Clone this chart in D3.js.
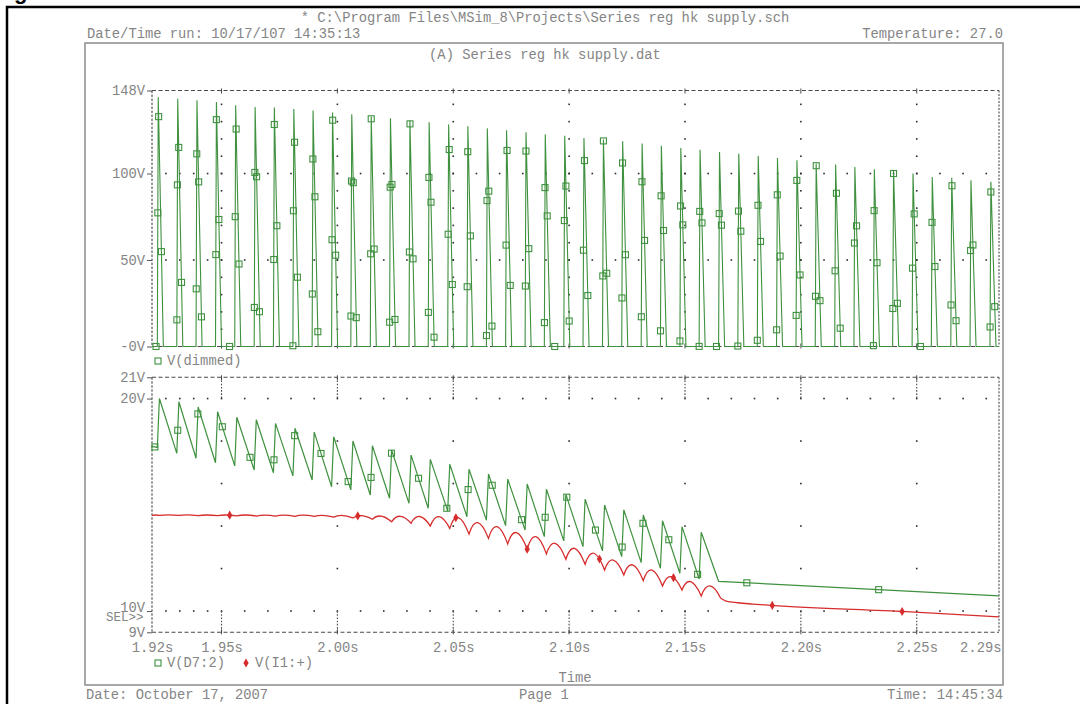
<!DOCTYPE html>
<html>
<head>
<meta charset="utf-8">
<script src="https://cdn.jsdelivr.net/npm/d3@7"></script>
<style>
  body { margin: 0; background: #fff; }
  svg { display: block; }
  text { font-family: "Liberation Mono", "DejaVu Sans Mono", monospace; font-size: 13.8px; fill: #858585; }
</style>
</head>
<body>
<div id="chart"></div>
<script>
// start of each rectifier pulse (s), shared by the three traces
const pulseTimes = [1.9223, 1.9307, 1.9390, 1.9474, 1.9557, 1.9641, 1.9724, 1.9808, 1.9891, 1.9975,
    2.0058, 2.0142, 2.0225, 2.0309, 2.0392, 2.0476, 2.0559, 2.0643, 2.0726, 2.0810,
    2.0893, 2.0977, 2.1060, 2.1144, 2.1227, 2.1311, 2.1394, 2.1478, 2.1561, 2.1645,
    2.1728, 2.1812, 2.1895, 2.1979, 2.2062, 2.2146, 2.2229, 2.2313, 2.2396, 2.2480,
    2.2563, 2.2647, 2.2730, 2.2816];

// V(dimmed) peak of each pulse (V)
const dimmedPeaks = [144.1, 143.3, 142.3, 141.3, 139.4, 138.4, 138.1, 137.3, 136.5, 135.3,
    134.2, 133.0, 131.9, 130.7, 129.6, 128.4, 127.3, 126.1, 125.0, 123.8,
    122.7, 121.8, 120.6, 119.6, 118.6, 117.3, 116.1, 114.8, 113.8, 112.5,
    111.5, 110.2, 109.0, 107.7, 105.8, 105.2, 103.8, 102.5, 101.5, 100.0,
    98.0, 97.5, 96.1, 95.2];

// V(D7:2) sawtooth: value before and after each recharge (V)
const d7Start = 17.75;
const d7Troughs = [17.70, 17.42, 17.19, 16.98, 16.83, 16.64, 16.51, 16.36, 16.17, 15.85,
    15.70, 15.46, 15.31, 15.07, 14.84, 14.71, 14.44, 14.28, 14.02, 13.81,
    13.50, 13.30, 13.03, 12.83, 12.56, 12.28, 12.01, 11.78, 11.51];
const d7Peaks = [20.00, 19.85, 19.60, 19.38, 19.12, 19.00, 18.83, 18.60, 18.42, 18.20,
    18.00, 17.78, 17.58, 17.34, 17.14, 16.91, 16.67, 16.45, 16.21, 15.98,
    15.73, 15.49, 15.26, 14.99, 14.76, 14.52, 14.25, 13.97, 13.71];
const d7TailTimes = [2.1645, 2.2855];
const d7TailValues = [11.40, 10.71];

// V(I1:+) ripple: cusp at each pulse and hump top between cusps (V)
const i1Start = 14.50;
const i1Cusps = [14.50, 14.50, 14.49, 14.49, 14.48, 14.47, 14.47, 14.46, 14.45, 14.42,
    14.38, 14.32, 14.20, 14.13, 14.00, 13.89, 13.62, 13.42, 13.16, 12.91,
    12.69, 12.44, 12.20, 11.93, 11.70, 11.43, 11.18, 10.99, 10.71, 10.60];
const i1Tops = [14.52, 14.53, 14.53, 14.52, 14.52, 14.52, 14.51, 14.51, 14.51, 14.50,
    14.50, 14.49, 14.47, 14.46, 14.45, 14.44, 14.40, 14.16, 13.97, 13.69,
    13.50, 13.19, 12.95, 12.72, 12.40, 12.17, 11.93, 11.62, 11.38, 11.18];
const i1TailTimes = [2.1677, 2.1728, 2.1793, 2.1872, 2.2455, 2.2855];
const i1TailValues = [10.47, 10.39, 10.33, 10.27, 9.97, 9.73];

// axis ticks
const xTickValues = [1.92, 1.95, 2.00, 2.05, 2.10, 2.15, 2.20, 2.25, 2.2855];
const xTickLabels = ["1.92s", "1.95s", "2.00s", "2.05s", "2.10s", "2.15s", "2.20s", "2.25s", "2.29s"];
const topTickValues = [0, 50, 100, 148];
const topTickLabels = ["-0V", "50V", "100V", "148V"];
const botTickValues = [9, 10, 20, 21];
const botTickLabels = ["9V", "10V", "20V", "21V"];

const green = "#3f913f";
const red = "#d62c2c";

const svg = d3.select("#chart")
    .append("svg")
    .attr("width", 1080)
    .attr("height", 704);

const x = d3.scaleLinear().domain([1.92, 2.2855]).range([152, 999]);
const yTop = d3.scaleLinear().domain([0, 148]).range([346.5, 90.5]);
const yBot = d3.scaleLinear().domain([9, 21]).range([632.3, 377.3]);

// page border and cut-off caption letter
svg.append("text")
    .attr("x", 14)
    .attr("y", -1)
    .style("font-family", "Liberation Sans, Arial, sans-serif")
    .style("font-weight", "bold")
    .style("font-size", "22px")
    .style("fill", "#000")
    .text("g");

svg.append("path")
    .attr("d", "M7,704V7H1080")
    .attr("fill", "none")
    .attr("stroke", "#000")
    .attr("stroke-width", 2.5);

// plot window
svg.append("rect")
    .attr("x", 85)
    .attr("y", 43)
    .attr("width", 918)
    .attr("height", 642)
    .attr("fill", "none")
    .attr("stroke", "#8c8c8c")
    .attr("stroke-width", 1.5);

// header and footer texts
svg.append("text").attr("x", 545).attr("y", 22).attr("text-anchor", "middle")
    .text("* C:\\Program Files\\MSim_8\\Projects\\Series reg hk supply.sch");
svg.append("text").attr("x", 87).attr("y", 38).text("Date/Time run: 10/17/107 14:35:13");
svg.append("text").attr("x", 1003).attr("y", 38).attr("text-anchor", "end").text("Temperature: 27.0");
svg.append("text").attr("x", 545).attr("y", 59).attr("text-anchor", "middle").text("(A) Series reg hk supply.dat");
svg.append("text").attr("x", 575).attr("y", 682).attr("text-anchor", "middle").text("Time");
svg.append("text").attr("x", 86).attr("y", 699).text("Date: October 17, 2007");
svg.append("text").attr("x", 519).attr("y", 699).text("Page 1");
svg.append("text").attr("x", 1003).attr("y", 699).attr("text-anchor", "end").text("Time: 14:45:34");

// grid helpers
const majorX = [1.95, 2.00, 2.05, 2.10, 2.15, 2.20, 2.25];
const minorX = [1.926, 1.932, 1.938, 1.944].concat(d3.range(1.95, 2.284, 0.01));

function dots(pts) {
    svg.append("g")
        .selectAll("rect")
        .data(pts)
        .join("rect")
        .attr("x", d => d[0] - 0.8)
        .attr("y", d => d[1] - 0.8)
        .attr("width", 1.6)
        .attr("height", 1.6)
        .attr("fill", "#2b2b2b");
}

function dashed(x1, y1, x2, y2, dash) {
    svg.append("line")
        .attr("x1", x1).attr("y1", y1)
        .attr("x2", x2).attr("y2", y2)
        .attr("stroke", "#4a4a4a")
        .attr("stroke-width", 1.1)
        .attr("stroke-dasharray", dash || "4,2.5");
}

function plotFrame(y, yMin, yMax) {
    dashed(x(1.92), y(yMax), x.range()[1], y(yMax));
    dashed(x(1.92), y(yMin), x.range()[1], y(yMin));
    dashed(x(1.92), y(yMax), x(1.92), y(yMin), "2.5,1.5");
    dashed(x.range()[1], y(yMax), x.range()[1], y(yMin), "2,1.5");
    // cross ticks on the top and bottom border
    majorX.forEach(t => {
        svg.append("line").attr("x1", x(t)).attr("x2", x(t))
            .attr("y1", y(yMax) - 2).attr("y2", y(yMax) + 3)
            .attr("stroke", "#4a4a4a");
        svg.append("line").attr("x1", x(t)).attr("x2", x(t))
            .attr("y1", y(yMin) - 3).attr("y2", y(yMin) + 2)
            .attr("stroke", "#4a4a4a");
    });
}

// top plot grid
[50, 100].forEach(v => dots(minorX.map(t => [x(t), yTop(v)])));
majorX.forEach(t => dots(d3.range(10, 148, 10).map(v => [x(t), yTop(v)])));
plotFrame(yTop, 0, 148);

// bottom plot grid
[10, 20].forEach(v => dots(minorX.map(t => [x(t), yBot(v)])));
majorX.forEach(t => {
    dots([12, 14, 16, 18].map(v => [x(t), yBot(v)]));
    dashed(x(t), yBot(21), x(t), yBot(20), "1.6,1.6");
    dashed(x(t), yBot(10), x(t), yBot(9), "1.6,1.6");
});
plotFrame(yBot, 9, 21);

// axes labels
function leftAxis(y, values, labels) {
    const g = svg.append("g")
        .attr("transform", "translate(152,0)")
        .style("color", "#555")
        .call(d3.axisLeft(y).tickValues(values).tickFormat((d, i) => labels[i]).tickSize(5).tickPadding(2));
    g.select(".domain").remove();
    return g;
}
leftAxis(yTop, topTickValues, topTickLabels);
const botAxis = leftAxis(yBot, botTickValues, botTickLabels);
// the 10V label sits raised above the SEL>> marker
botAxis.selectAll(".tick text").filter((d) => d === 10).attr("dy", "0.05em");

svg.append("text")
    .attr("x", 106)
    .attr("y", 621)
    .style("font-size", "12.5px")
    .text("SEL>>");

const xAxis = svg.append("g")
    .attr("transform", `translate(0,${yBot(9)})`)
    .call(d3.axisBottom(x).tickValues(xTickValues).tickFormat((d, i) => xTickLabels[i]).tickSize(0).tickPadding(10));
xAxis.select(".domain").remove();
xAxis.selectAll(".tick:last-of-type text").attr("text-anchor", "end").attr("x", 2);

// markers spaced evenly along a drawn trace
function markersAlong(path, spacing, offset) {
    const node = path.node();
    const len = node.getTotalLength();
    const pts = [];
    for (let s = offset; s <= len; s += spacing) {
        const p = node.getPointAtLength(s);
        pts.push([p.x, p.y]);
    }
    return pts;
}

function squares(pts) {
    svg.append("g")
        .selectAll("rect")
        .data(pts)
        .join("rect")
        .attr("x", d => d[0] - 3)
        .attr("y", d => d[1] - 3)
        .attr("width", 6)
        .attr("height", 6)
        .attr("fill", "none")
        .attr("stroke", green)
        .attr("stroke-width", 1.1);
}

function diamonds(pts) {
    svg.append("g")
        .selectAll("path")
        .data(pts)
        .join("path")
        .attr("transform", d => `translate(${d[0]},${d[1]})`)
        .attr("d", d3.symbol(d3.symbolDiamond).size(24))
        .attr("fill", red);
}

// V(dimmed)
const dimmedPts = [[1.92, 0]];
pulseTimes.forEach((t, i) => {
    dimmedPts.push([t, 0], [t + 0.0004, dimmedPeaks[i]], [t + 0.0026, 0]);
});
dimmedPts.push([2.2855, 0]);

const dimmedPath = svg.append("path")
    .attr("d", d3.line().x(d => x(d[0])).y(d => yTop(d[1]))(dimmedPts))
    .attr("fill", "none")
    .attr("stroke", green)
    .attr("stroke-width", 1.1);
squares(markersAlong(dimmedPath, 135, 4));

// V(D7:2)
const d7Pts = [[1.92, d7Start]];
d7Troughs.forEach((v, k) => {
    d7Pts.push([pulseTimes[k], v], [pulseTimes[k] + 0.0009, d7Peaks[k]]);
});
d7TailTimes.forEach((t, i) => d7Pts.push([t, d7TailValues[i]]));

const d7Path = svg.append("path")
    .attr("d", d3.line().x(d => x(d[0])).y(d => yBot(d[1]))(d7Pts))
    .attr("fill", "none")
    .attr("stroke", green)
    .attr("stroke-width", 1.2);

// V(I1:+) : humps between cusps, then smooth tail
const p = d3.path();
let px = x(1.92), py = yBot(i1Start);
p.moveTo(px, py);
i1Cusps.forEach((v, k) => {
    const cx = x(pulseTimes[k] + 0.0009), cy = yBot(v);
    const top = yBot(i1Tops[k]);
    p.quadraticCurveTo(px + 0.4 * (cx - px), 2 * top - (py + cy) / 2, cx, cy);
    px = cx; py = cy;
});
const tailPts = [[pulseTimes[29] + 0.0009, i1Cusps[29]]];
i1TailTimes.forEach((t, i) => tailPts.push([t, i1TailValues[i]]));
d3.line().x(d => x(d[0])).y(d => yBot(d[1])).curve(d3.curveMonotoneX).context(p)(tailPts);

const i1Path = svg.append("path")
    .attr("d", p.toString())
    .attr("fill", "none")
    .attr("stroke", red)
    .attr("stroke-width", 1.3);

squares(markersAlong(d7Path, 132, 3));
diamonds(markersAlong(i1Path, 130, 78));

// legends
squares([[158, 361]]);
svg.append("text").attr("x", 167).attr("y", 365).text("V(dimmed)");
squares([[158, 663]]);
svg.append("text").attr("x", 167).attr("y", 667).text("V(D7:2)");
diamonds([[246, 663]]);
svg.append("text").attr("x", 255).attr("y", 667).text("V(I1:+)");
</script>
</body>
</html>
